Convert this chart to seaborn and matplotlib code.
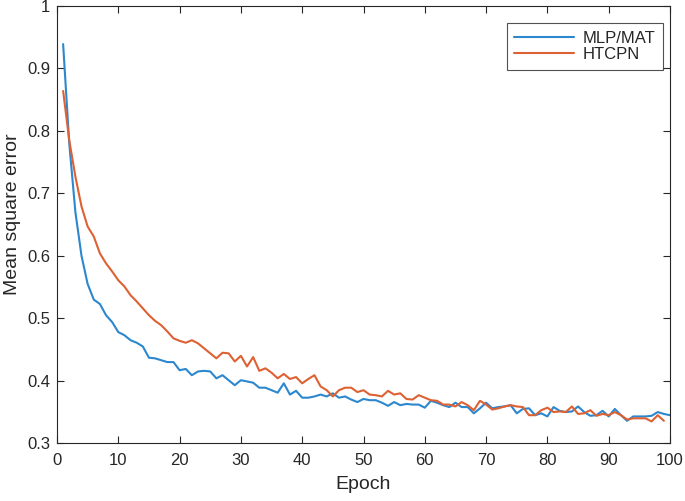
import numpy as np
import pandas as pd
import matplotlib
matplotlib.use("Agg")
import matplotlib.pyplot as plt
import seaborn as sns

# ---- data ----
mlp_mat = [
    0.939, 0.78, 0.67, 0.60, 0.555, 0.53, 0.523, 0.505, 0.494, 0.478,
    0.473, 0.465, 0.461, 0.455, 0.437, 0.436, 0.433, 0.430, 0.430, 0.417,
    0.419, 0.409, 0.415, 0.416, 0.415, 0.404, 0.409,
    0.401, 0.393, 0.401, 0.399, 0.397, 0.389, 0.389, 0.385, 0.381, 0.396,
    0.378, 0.384, 0.373, 0.373, 0.375, 0.378, 0.375, 0.380, 0.373, 0.375,
    0.370, 0.366, 0.371, 0.369, 0.369, 0.365, 0.360, 0.366, 0.361, 0.363,
    0.362, 0.362, 0.357, 0.368, 0.365, 0.361, 0.358,
    0.365, 0.358, 0.358, 0.348, 0.356, 0.365, 0.356, 0.358, 0.359, 0.361,
    0.348, 0.355, 0.356, 0.345, 0.348, 0.343, 0.358, 0.352, 0.350, 0.351,
    0.359, 0.350, 0.344, 0.345, 0.352, 0.343, 0.355, 0.345, 0.336, 0.343,
    0.343, 0.343, 0.344, 0.350, 0.347, 0.345,
]
htcpn = [
    0.864, 0.785, 0.727, 0.679, 0.647, 0.631, 0.604, 0.588, 0.575, 0.561,
    0.551, 0.537, 0.527, 0.516, 0.505, 0.496, 0.489, 0.479, 0.468, 0.464,
    0.461, 0.465, 0.460, 0.452, 0.444, 0.436, 0.445,
    0.444, 0.431, 0.440, 0.423, 0.438, 0.416, 0.420, 0.413, 0.404, 0.411,
    0.403, 0.406, 0.396, 0.403, 0.409, 0.391, 0.385, 0.375, 0.385, 0.389,
    0.389, 0.382, 0.385, 0.378, 0.377, 0.375, 0.384, 0.378, 0.380, 0.371,
    0.370, 0.377, 0.373, 0.369, 0.368, 0.362, 0.362,
    0.359, 0.366, 0.361, 0.353, 0.368, 0.362, 0.354, 0.356, 0.359, 0.361,
    0.359, 0.358, 0.345, 0.345, 0.353, 0.357, 0.350, 0.351, 0.350, 0.359,
    0.347, 0.348, 0.353, 0.344, 0.347, 0.345, 0.350, 0.345, 0.338, 0.340,
    0.340, 0.340, 0.335, 0.345, 0.336,
]
series_names = ["MLP/MAT", "HTCPN"]
x_ticks = list(range(0, 101, 10))
y_ticks = [0.3, 0.4, 0.5, 0.6, 0.7, 0.8, 0.9, 1.0]
y_tick_labels = ["0.3", "0.4", "0.5", "0.6", "0.7", "0.8", "0.9", "1"]

df = pd.concat([
    pd.DataFrame({"Epoch": np.arange(1, len(mlp_mat) + 1), "MSE": mlp_mat, "Model": series_names[0]}),
    pd.DataFrame({"Epoch": np.arange(1, len(htcpn) + 1), "MSE": htcpn, "Model": series_names[1]}),
], ignore_index=True)

sns.set_style("white")
plt.rcParams["font.family"] = ["Liberation Sans", "DejaVu Sans"]

axc = "#262626"
fig = plt.figure(figsize=(6.85, 5.01), dpi=100)
ax = fig.add_axes([57 / 685, 1 - 443.3 / 501, (670 - 57) / 685, (443.3 - 6) / 501])

sns.lineplot(data=df, x="Epoch", y="MSE", hue="Model",
             palette={"MLP/MAT": "#2B87CE", "HTCPN": "#DD6133"},
             linewidth=1.5, ax=ax, legend=True)

ax.set_xlim(0, 100)
ax.set_ylim(0.3, 1.0)
ax.set_xticks(x_ticks)
ax.set_yticks(y_ticks)
ax.set_yticklabels(y_tick_labels)
ax.tick_params(direction="in", length=5, width=0.8, colors=axc, labelsize=12,
               top=True, right=True, bottom=True, left=True)
ax.tick_params(axis="x", pad=7)
ax.tick_params(axis="y", pad=5)
for s in ax.spines.values():
    s.set_visible(True)
    s.set_color(axc)
    s.set_linewidth(0.8)
ax.set_xlabel("Epoch", fontsize=14, color=axc, labelpad=6)
ax.set_ylabel("Mean square error", fontsize=14, color=axc)
ax.yaxis.set_label_coords(-0.058, 0.525)

leg = ax.legend(loc="upper right", bbox_to_anchor=(0.9886, 0.961), borderaxespad=0,
                fontsize=12, frameon=True, fancybox=False,
                edgecolor=axc, borderpad=0.45, handlelength=3.6, handletextpad=0.5,
                labelspacing=0.1)
leg.get_frame().set_linewidth(0.8)
for t in leg.get_texts():
    t.set_color(axc)

fig.savefig("out.png", dpi=100, facecolor="white")
